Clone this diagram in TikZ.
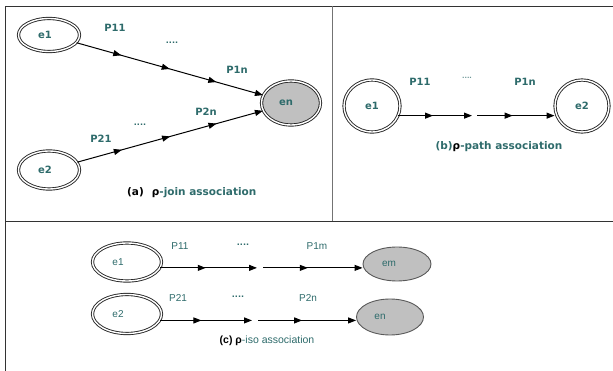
\documentclass[tikz,border=0pt]{standalone}
\usepackage{fontspec}
\setmainfont{DejaVu Sans}
\newfontfamily\arialf{Liberation Sans}
\usetikzlibrary{arrows.meta,decorations.markings,shapes.geometric}
\definecolor{tealtxt}{HTML}{2E6B6B}
\definecolor{shade}{HTML}{C0C0C0}
\begin{document}
\begin{tikzpicture}[x=1pt,y=-1pt,
  ent/.style={ellipse, draw=black!85, double=white, double distance=1.4pt, line width=0.9pt, inner sep=0pt, text=tealtxt, font=\bfseries\fontsize{10}{12}\selectfont},
  entg/.style={ent, fill=shade},
  entc/.style={ellipse, draw=black!85, double=white, double distance=1.4pt, line width=0.9pt, inner sep=0pt, text=tealtxt, font=\arialf\fontsize{10}{12}\selectfont},
  entcg/.style={ellipse, draw=black!65, line width=0.9pt, fill=shade, inner sep=0pt, text=tealtxt, font=\arialf\fontsize{10}{12}\selectfont},
  lbl/.style={text=tealtxt, font=\bfseries\fontsize{10}{12}\selectfont, inner sep=0pt},
  lblc/.style={text=tealtxt, font=\arialf\fontsize{10}{12}\selectfont, inner sep=0pt},
  dots/.style={text=tealtxt, font=\bfseries\fontsize{8}{9}\selectfont, inner sep=0pt},
  tip/.style={-{Triangle[length=8pt,width=6pt]}},
  three/.style={tip, line width=1pt, postaction={decorate}, decoration={markings,
     mark=at position 0.24 with {\arrow{Triangle[length=8pt,width=6pt]}},
     mark=at position 0.50 with {\arrow{Triangle[length=8pt,width=6pt]}},
     mark=at position 0.75 with {\arrow{Triangle[length=8pt,width=6pt]}}}},
  one/.style={tip, line width=1pt, postaction={decorate}, decoration={markings,
     mark=at position #1 with {\arrow{Triangle[length=8pt,width=6pt]}}}},
  frame/.style={line width=0.9pt, draw=black!80}
]
\useasboundingbox (0,0) rectangle (613,371);
% frame
\draw[frame] (5,371) -- (5,6) -- (613,6);
\draw[frame] (5,221) -- (613,221);
\draw[frame, draw=black!55] (332,6) -- (332,221);

% ---- panel (a)
\node[ent, minimum width=61pt, minimum height=33pt] (ae1) at (49,35) {\hspace*{-8pt}e1};
\node[ent, minimum width=61pt, minimum height=38pt] (ae2) at (49,170) {\hspace*{-8pt}e2};
\node[entg, minimum width=59pt, minimum height=44pt] (aen) at (291,103) {\hspace*{-10pt}en};
\draw[three] (ae1) -- (aen);
\draw[three] (ae2) -- (aen);
\node[lbl] (ap11) at (115,28) {P11};
\node[dots] (ad1) at (172,43) {....};
\node[lbl] (ap1n) at (237,70) {P1n};
\node[lbl] (ap21) at (101,139) {P21};
\node[dots] (ad2) at (140,125) {....};
\node[lbl] (ap2n) at (206,112) {P2n};
\node[inner sep=0pt, font=\bfseries\fontsize{10.5}{12}\selectfont, anchor=west] (acap) at (127,193)
  {(a)\hspace{8pt}ρ\textcolor{tealtxt}{-join association}};

% ---- panel (b)
\node[ent, minimum width=56pt, minimum height=52pt] (be1) at (372,106) {e1};
\node[ent, minimum width=54pt, minimum height=52pt] (be2) at (582,106) {e2};
\coordinate (bx1) at (472,0);
\coordinate (bx2) at (477,0);
\coordinate (bg1) at (be1.-20 -| bx1);
\coordinate (bg2) at (be1.-20 -| bx2);
\draw[one=0.47] (be1.-20) -- (bg1);
\draw[one=0.46] (bg2) -- (bg2 -| be2.west);
\node[lbl] (bp11) at (420,82) {P11};
\node[dots, font=\bfseries\fontsize{6.5}{8}\selectfont, text=tealtxt!70] (bd) at (467,78) {....};
\node[lbl] (bp1n) at (525,82) {P1n};
\node[inner sep=0pt, text=tealtxt, font=\bfseries\fontsize{10.5}{12}\selectfont] (bcap) at (499,147)
  {(b)\textcolor{black}{ρ}-path association};

% ---- panel (c)
\node[entc, minimum width=69pt, minimum height=38pt] (ce1) at (127,262) {\hspace*{-18pt}e1};
\node[entcg, minimum width=68pt, minimum height=34pt] (cem) at (397,264) {\hspace*{-16pt}em};
\node[entc, minimum width=69pt, minimum height=39pt] (ce2) at (127,314) {\hspace*{-18pt}e2};
\node[entcg, minimum width=67pt, minimum height=36pt] (cen) at (390,317) {\hspace*{-20pt}en};
\coordinate (cx1) at (257,0);
\coordinate (cx2) at (263,0);
\coordinate (cx3) at (252,0);
\coordinate (cx4) at (258,0);
\coordinate (c1a) at (ce1.-10 -| cx1);
\coordinate (c1b) at (ce1.-10 -| cx2);
\coordinate (c2a) at (ce2.-11 -| cx3);
\coordinate (c2b) at (ce2.-11 -| cx4);
\draw[one=0.47] (ce1.-10) -- (c1a);
\draw[one=0.45] (c1b) -- (c1b -| cem.west);
\draw[one=0.45] (ce2.-11) -- (c2a);
\draw[one=0.45] (c2b) -- (c2b -| cen.west);
\node[lblc] (cp11) at (180,246) {P11};
\node[dots] (cd1) at (243,245) {....};
\node[lblc] (cp1m) at (317,246) {P1m};
\node[lblc] (cp21) at (178,298) {P21};
\node[dots] (cd2) at (238,297) {....};
\node[lblc] (cp2n) at (308,298) {P2n};
\node[inner sep=0pt, font=\arialf\fontsize{10.5}{12}\selectfont] (ccap) at (267,341)
  {\textbf{(c) ρ}\textcolor{tealtxt}{-iso association}};
\end{tikzpicture}
\end{document}
